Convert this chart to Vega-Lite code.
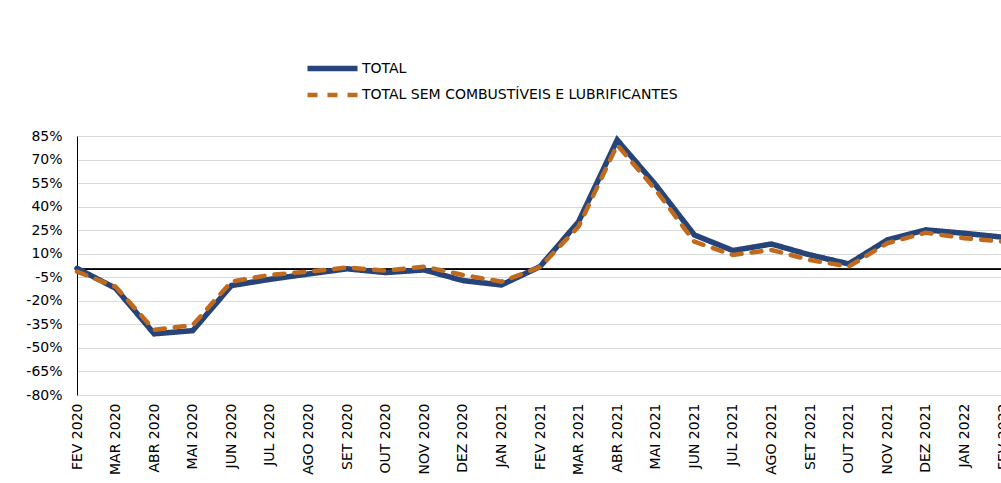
{
  "$schema": "https://vega.github.io/schema/vega-lite/v6.json",
  "autosize": {"type": "none"},
  "width": 926,
  "height": 259,
  "padding": {"left": 77, "top": 136, "right": 0, "bottom": 88},
  "background": "white",
  "config": {
    "view": {"stroke": null},
    "font": "DejaVu Sans",
    "axis": {"labelFont": "DejaVu Sans", "labelColor": "#000000", "labelFontSize": 14},
    "axisY": {"labelOverlap": false}
  },
  "data": {
    "values": [
      {"mes": "FEV 2020", "TOTAL": 0.7, "TOTAL SEM COMBUSTÍVEIS E LUBRIFICANTES": -1.4},
      {"mes": "MAR 2020", "TOTAL": -12.0, "TOTAL SEM COMBUSTÍVEIS E LUBRIFICANTES": -11.0},
      {"mes": "ABR 2020", "TOTAL": -41.0, "TOTAL SEM COMBUSTÍVEIS E LUBRIFICANTES": -38.5},
      {"mes": "MAI 2020", "TOTAL": -39.0, "TOTAL SEM COMBUSTÍVEIS E LUBRIFICANTES": -35.5},
      {"mes": "JUN 2020", "TOTAL": -10.3, "TOTAL SEM COMBUSTÍVEIS E LUBRIFICANTES": -7.8},
      {"mes": "JUL 2020", "TOTAL": -6.3, "TOTAL SEM COMBUSTÍVEIS E LUBRIFICANTES": -3.5},
      {"mes": "AGO 2020", "TOTAL": -2.9, "TOTAL SEM COMBUSTÍVEIS E LUBRIFICANTES": -1.4},
      {"mes": "SET 2020", "TOTAL": 0.4, "TOTAL SEM COMBUSTÍVEIS E LUBRIFICANTES": 1.2},
      {"mes": "OUT 2020", "TOTAL": -2.0, "TOTAL SEM COMBUSTÍVEIS E LUBRIFICANTES": -0.8},
      {"mes": "NOV 2020", "TOTAL": -0.3, "TOTAL SEM COMBUSTÍVEIS E LUBRIFICANTES": 1.8},
      {"mes": "DEZ 2020", "TOTAL": -7.1, "TOTAL SEM COMBUSTÍVEIS E LUBRIFICANTES": -3.5},
      {"mes": "JAN 2021", "TOTAL": -9.9, "TOTAL SEM COMBUSTÍVEIS E LUBRIFICANTES": -7.8},
      {"mes": "FEV 2021", "TOTAL": 1.8, "TOTAL SEM COMBUSTÍVEIS E LUBRIFICANTES": 1.5},
      {"mes": "MAR 2021", "TOTAL": 30.4, "TOTAL SEM COMBUSTÍVEIS E LUBRIFICANTES": 27.3},
      {"mes": "ABR 2021", "TOTAL": 82.5, "TOTAL SEM COMBUSTÍVEIS E LUBRIFICANTES": 79.3},
      {"mes": "MAI 2021", "TOTAL": 53.8, "TOTAL SEM COMBUSTÍVEIS E LUBRIFICANTES": 50.6},
      {"mes": "JUN 2021", "TOTAL": 22.0, "TOTAL SEM COMBUSTÍVEIS E LUBRIFICANTES": 17.7},
      {"mes": "JUL 2021", "TOTAL": 12.0, "TOTAL SEM COMBUSTÍVEIS E LUBRIFICANTES": 9.2},
      {"mes": "AGO 2021", "TOTAL": 16.2, "TOTAL SEM COMBUSTÍVEIS E LUBRIFICANTES": 12.4},
      {"mes": "SET 2021", "TOTAL": 9.2, "TOTAL SEM COMBUSTÍVEIS E LUBRIFICANTES": 6.0},
      {"mes": "OUT 2021", "TOTAL": 3.5, "TOTAL SEM COMBUSTÍVEIS E LUBRIFICANTES": 1.8},
      {"mes": "NOV 2021", "TOTAL": 18.8, "TOTAL SEM COMBUSTÍVEIS E LUBRIFICANTES": 16.7},
      {"mes": "DEZ 2021", "TOTAL": 25.2, "TOTAL SEM COMBUSTÍVEIS E LUBRIFICANTES": 23.4},
      {"mes": "JAN 2022", "TOTAL": 23.0, "TOTAL SEM COMBUSTÍVEIS E LUBRIFICANTES": 19.9},
      {"mes": "FEV 2022", "TOTAL": 20.5, "TOTAL SEM COMBUSTÍVEIS E LUBRIFICANTES": 17.7}
    ]
  },
  "layer": [
    {
      "mark": {"type": "rule", "color": "#000000", "strokeWidth": 1},
      "encoding": {
        "y": {
          "datum": 0, "type": "quantitative",
          "scale": {"domain": [-80, 85], "nice": false, "zero": false},
          "axis": {
            "title": null,
            "values": [-80, -65, -50, -35, -20, -5, 10, 25, 40, 55, 70, 85],
            "labelExpr": "datum.value + '%'",
            "labelOverlap": false,
            "grid": true, "gridColor": "#d9d9d9", "gridWidth": 1,
            "domain": true, "domainColor": "#000000", "domainWidth": 1,
            "ticks": false, "labelPadding": 15
          }
        }
      }
    },
    {
      "transform": [{"fold": ["TOTAL", "TOTAL SEM COMBUSTÍVEIS E LUBRIFICANTES"], "as": ["serie", "valor"]}],
      "mark": {"type": "line", "strokeCap": "round", "strokeJoin": "miter"},
      "encoding": {
        "x": {
          "field": "mes", "type": "ordinal", "sort": null,
          "scale": {"type": "point", "padding": 0},
          "axis": {"title": null, "labelAngle": -90, "domain": false, "ticks": false, "labelPadding": 8, "grid": false, "labelOverlap": false}
        },
        "y": {
          "field": "valor", "type": "quantitative",
          "scale": {"domain": [-80, 85], "nice": false, "zero": false},
          "axis": {
            "title": null,
            "values": [-80, -65, -50, -35, -20, -5, 10, 25, 40, 55, 70, 85],
            "labelExpr": "datum.value + '%'",
            "labelOverlap": false,
            "grid": true, "gridColor": "#d9d9d9", "gridWidth": 1,
            "domain": true, "domainColor": "#000000", "domainWidth": 1,
            "ticks": false, "labelPadding": 15
          }
        },
        "color": {
          "field": "serie", "type": "nominal",
          "scale": {"domain": ["TOTAL", "TOTAL SEM COMBUSTÍVEIS E LUBRIFICANTES"], "range": ["#264478", "#C06A1E"]},
          "legend": {
            "title": null, "orient": "none", "legendX": 240, "legendY": -83,
            "symbolType": "M-2,0L2,0", "symbolSize": 625, "symbolStrokeWidth": 5,
            "labelFont": "DejaVu Sans", "labelFontSize": 14, "labelColor": "#000000", "labelLimit": 600,
            "rowPadding": -1, "labelOffset": 14
          }
        },
        "strokeDash": {
          "field": "serie", "type": "nominal",
          "scale": {"domain": ["TOTAL", "TOTAL SEM COMBUSTÍVEIS E LUBRIFICANTES"], "range": [[1, 0], [10, 10]]},
          "legend": {
            "title": null, "orient": "none", "legendX": 240, "legendY": -83,
            "symbolType": "M-2,0L2,0", "symbolSize": 625, "symbolStrokeWidth": 5,
            "labelFont": "DejaVu Sans", "labelFontSize": 14, "labelColor": "#000000", "labelLimit": 600,
            "rowPadding": -1, "labelOffset": 14
          }
        },
        "strokeWidth": {
          "field": "serie", "type": "nominal",
          "scale": {"domain": ["TOTAL", "TOTAL SEM COMBUSTÍVEIS E LUBRIFICANTES"], "range": [5.5, 4.5]},
          "legend": null
        }
      }
    }
  ]
}
